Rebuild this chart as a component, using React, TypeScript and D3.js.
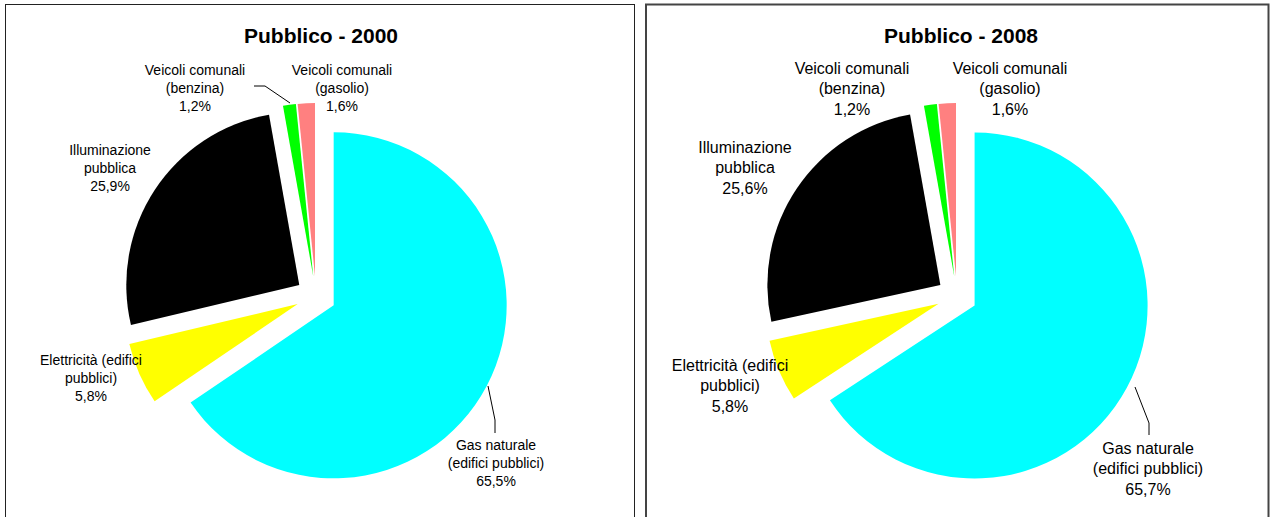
import React from "react";
import * as d3 from "d3";

const categories = [
  "Gas naturale (edifici pubblici)",
  "Elettricità (edifici pubblici)",
  "Illuminazione pubblica",
  "Veicoli comunali (benzina)",
  "Veicoli comunali (gasolio)",
];
const values2000 = [65.5, 5.8, 25.9, 1.2, 1.6];
const values2008 = [65.7, 5.8, 25.6, 1.2, 1.6];
const labelLines = [
  ["Gas naturale", "(edifici pubblici)"],
  ["Elettricità (edifici", "pubblici)"],
  ["Illuminazione", "pubblica"],
  ["Veicoli comunali", "(benzina)"],
  ["Veicoli comunali", "(gasolio)"],
];
const titles = ["Pubblico - 2000", "Pubblico - 2008"];
const colors = ["#00FFFF", "#FFFF00", "#000000", "#00FF00", "#FF8080"];

const fmt = (v: number) => v.toFixed(1).replace(".", ",") + "%";

type Panel = {
  x0: number; x1: number; cx: number; cy: number; r: number; e: number;
  titleX: number; fs: number; lh: number;
  labels: [number, number][]; // center x, first line center y
  leaders: (number[][] | null)[];
  stroke: string; sw: number;
};

const panels: Panel[] = [
  {
    x0: 5.5, x1: 634.5, cx: 316, cy: 296, r: 173, e: 20, titleX: 321, fs: 14, lh: 18,
    labels: [[496, 445], [91, 360], [110, 150], [195, 70], [342, 70]],
    leaders: [[[488, 386], [495, 420], [495, 433]], null, null, [[254, 86], [265, 86], [290, 103]], null],
    stroke: "#222", sw: 1,
  },
  {
    x0: 646, x1: 1268.5, cx: 957, cy: 296, r: 173, e: 20, titleX: 961, fs: 16, lh: 20.5,
    labels: [[1148, 448], [730, 365], [745, 147], [852, 68], [1010, 68]],
    leaders: [[[1135, 387], [1149, 423], [1149, 435]], null, null, null, null],
    stroke: "#444", sw: 2,
  },
];

const datasets = [values2000, values2008];

export default function App() {
  const pie = d3.pie<number>().sort(null).value((d) => d).startAngle(0).endAngle(2 * Math.PI);
  const font = "'Liberation Sans', Arial, sans-serif";
  return (
    <svg width={1270} height={517} style={{ position: "absolute", left: 0, top: 0, background: "#fff" }}>
      {panels.map((p, pi) => {
        const arcs = pie(datasets[pi]);
        const arc = d3.arc<d3.PieArcDatum<number>>().innerRadius(0).outerRadius(p.r);
        return (
          <g key={pi}>
            <rect x={p.x0} y={4.5} width={p.x1 - p.x0} height={530} fill="#fff" stroke={p.stroke} strokeWidth={p.sw} />
            <text x={p.titleX} y={43} textAnchor="middle" fontFamily={font} fontWeight="bold" fontSize={21} fill="#000">
              {titles[pi]}
            </text>
            {arcs.map((a, i) => {
              const mid = (a.startAngle + a.endAngle) / 2;
              const dx = p.e * Math.sin(mid);
              const dy = -p.e * Math.cos(mid);
              return (
                <path key={i} d={arc(a) || ""} transform={`translate(${p.cx + dx},${p.cy + dy})`} fill={colors[i]} />
              );
            })}
            {p.leaders.map((l, i) =>
              l ? (
                <polyline key={"l" + i} points={l.map((q) => q.join(",")).join(" ")} fill="none" stroke="#000" strokeWidth={1} />
              ) : null
            )}
            {categories.map((c, i) => {
              const [lx, ly] = p.labels[i];
              const lines = [...labelLines[i], fmt(datasets[pi][i])];
              return (
                <text key={"t" + i} textAnchor="middle" fontFamily={font} fontSize={p.fs} fill="#000">
                  {lines.map((s, k) => (
                    <tspan key={k} x={lx} y={ly + k * p.lh + p.fs * 0.36}>{s}</tspan>
                  ))}
                </text>
              );
            })}
          </g>
        );
      })}
    </svg>
  );
}
